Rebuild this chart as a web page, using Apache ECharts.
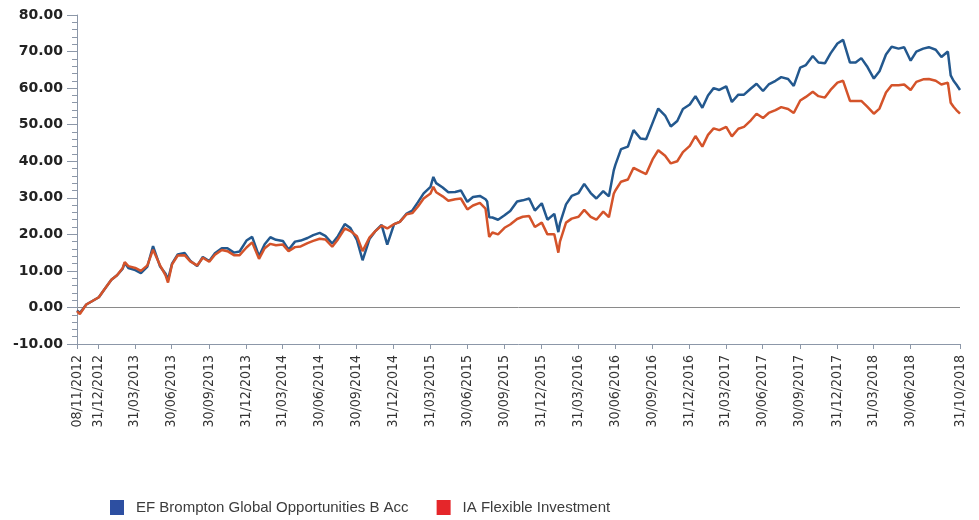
<!DOCTYPE html>
<html>
<head>
<meta charset="utf-8">
<title>EF Brompton vs IA Flexible Investment</title>
<script src="https://cdn.jsdelivr.net/npm/echarts@6.0.0/dist/echarts.min.js"></script>
<style>
  html, body { margin: 0; padding: 0; background: #fff; }
  #chart { width: 979px; height: 520px; }
</style>
</head>
<body>
<div id="chart"></div>
<script>
  // sample dates (ISO)
  var dates = [
    '2012-11-08', '2012-11-15', '2012-12-01', '2012-12-15',
    '2013-01-01', '2013-01-15', '2013-02-01', '2013-02-15', '2013-03-01', '2013-03-06', '2013-03-15',
    '2013-04-01', '2013-04-15', '2013-05-01', '2013-05-15', '2013-06-01', '2013-06-15', '2013-06-21',
    '2013-07-01', '2013-07-15', '2013-08-01', '2013-08-15', '2013-09-01', '2013-09-15', '2013-10-01',
    '2013-10-15', '2013-11-01', '2013-11-15', '2013-12-01', '2013-12-15',
    '2014-01-01', '2014-01-15', '2014-02-01', '2014-02-15', '2014-03-01', '2014-03-15', '2014-04-01',
    '2014-04-15', '2014-05-01', '2014-05-15', '2014-06-01', '2014-06-15', '2014-07-01', '2014-07-15',
    '2014-08-01', '2014-08-15', '2014-09-01', '2014-09-15', '2014-10-01', '2014-10-15', '2014-11-01',
    '2014-11-15', '2014-12-01', '2014-12-15',
    '2015-01-01', '2015-01-15', '2015-02-01', '2015-02-15', '2015-03-01', '2015-03-15', '2015-04-01',
    '2015-04-08', '2015-04-15', '2015-05-01', '2015-05-15', '2015-06-01', '2015-06-15', '2015-07-01',
    '2015-07-15', '2015-08-01', '2015-08-15', '2015-08-19', '2015-08-24', '2015-09-01', '2015-09-15',
    '2015-10-01', '2015-10-15', '2015-11-01', '2015-11-15', '2015-12-01', '2015-12-15',
    '2016-01-01', '2016-01-15', '2016-02-01', '2016-02-11', '2016-02-15', '2016-03-01', '2016-03-15',
    '2016-04-01', '2016-04-15', '2016-05-01', '2016-05-15', '2016-06-01', '2016-06-15', '2016-06-27',
    '2016-07-01', '2016-07-15', '2016-08-01', '2016-08-15', '2016-09-01', '2016-09-15', '2016-10-01',
    '2016-10-15', '2016-11-01', '2016-11-15', '2016-12-01', '2016-12-15',
    '2017-01-01', '2017-01-15', '2017-02-01', '2017-02-15', '2017-03-01', '2017-03-15', '2017-04-01',
    '2017-04-15', '2017-05-01', '2017-05-15', '2017-06-01', '2017-06-15', '2017-07-01', '2017-07-15',
    '2017-08-01', '2017-08-15', '2017-09-01', '2017-09-15', '2017-10-01', '2017-10-15', '2017-11-01',
    '2017-11-15', '2017-12-01', '2017-12-15',
    '2018-01-01', '2018-01-15', '2018-02-01', '2018-02-15', '2018-03-01', '2018-03-15', '2018-04-01',
    '2018-04-15', '2018-05-01', '2018-05-15', '2018-06-01', '2018-06-15', '2018-07-01', '2018-07-15',
    '2018-08-01', '2018-08-15', '2018-09-01', '2018-09-15', '2018-10-01', '2018-10-08', '2018-10-15',
    '2018-10-22', '2018-10-31'
  ];

  var fundValues = [
    -0.8, -1.5, 0.8, 1.7,
    2.8, 5.0, 7.6, 8.8, 10.6, 12.2, 10.8,
    10.2, 9.4, 11.2, 16.8, 11.3, 9.2, 7.6,
    12.0, 14.5, 14.9, 12.8, 11.3, 13.8, 12.7,
    14.8, 16.2, 16.2, 15.0, 15.3,
    18.3, 19.3, 14.0, 17.3, 19.2, 18.5, 18.2,
    15.8, 18.0, 18.3, 19.0, 19.8, 20.4, 19.6,
    17.5, 19.5, 22.8, 21.7, 18.5, 12.9, 18.7,
    20.8, 22.6, 17.2,
    22.8, 23.4, 25.7, 26.5, 28.8, 31.2, 33.0,
    35.7, 34.0, 32.8, 31.5, 31.6, 32.0, 28.9,
    30.2, 30.5, 29.6, 29.0, 24.7, 24.6, 24.0,
    25.2, 26.4, 29.0, 29.3, 29.8, 26.5,
    28.5, 24.0, 25.6, 20.6, 23.0, 28.2, 30.5,
    31.3, 33.8, 31.3, 29.8, 31.8, 30.4, 37.5,
    39.0, 43.3, 44.0, 48.5, 46.2, 46.0, 50.5,
    54.4, 52.5, 49.5, 51.0, 54.3,
    55.5, 57.8, 54.6, 58.0, 60.0, 59.5, 60.5,
    56.2, 58.2, 58.2, 59.9, 61.2, 59.2, 61.0,
    62.0, 63.0, 62.5, 60.6, 65.6, 66.3, 68.8,
    67.0, 66.8, 69.5,
    72.2, 73.2, 67.0, 67.0, 68.2, 66.0, 62.6,
    64.6, 69.2, 71.3, 70.8, 71.2, 67.5, 70.0,
    70.8, 71.2, 70.5, 68.5, 70.0, 63.5, 62.0,
    61.0, 59.5
  ];

  var sectorValues = [
    -1.0, -1.8, 0.8, 1.7,
    2.8, 5.0, 7.6, 8.8, 10.8, 12.4, 11.3,
    10.8, 10.0, 11.5, 15.8, 11.6, 8.8, 6.8,
    11.8, 14.2, 14.3, 12.6, 11.5, 13.6, 12.5,
    14.4, 15.7, 15.4, 14.3, 14.3,
    16.4, 17.8, 13.3, 16.2, 17.4, 17.0, 17.2,
    15.4, 16.5, 16.7, 17.6, 18.2, 18.8, 18.6,
    16.6, 18.6, 21.6, 20.9, 19.5, 15.4, 19.1,
    20.8, 22.4, 21.6,
    22.8, 23.4, 25.5, 25.8, 27.6, 29.8, 31.2,
    33.0, 31.5, 30.4, 29.2, 29.6, 29.8, 26.8,
    27.9, 28.6, 27.0, 26.6, 19.3, 20.5, 20.0,
    21.8, 22.7, 24.2, 24.8, 25.0, 22.0,
    23.2, 20.0, 20.0, 15.0, 18.0, 23.2, 24.3,
    24.8, 26.7, 24.8, 24.0, 26.2, 24.7, 31.1,
    32.0, 34.4, 35.0, 38.2, 37.2, 36.5, 40.5,
    43.0, 41.5, 39.4, 40.0, 42.5,
    44.2, 46.9, 44.0, 47.2, 49.0, 48.5, 49.4,
    46.8, 48.9, 49.4, 51.2, 53.0, 51.8, 53.2,
    54.0, 54.8, 54.3, 53.2, 56.6, 57.6, 59.0,
    57.8, 57.4, 59.5,
    61.5, 62.0, 56.5, 56.5, 56.5, 55.0, 53.0,
    54.4, 58.8, 60.8, 60.8, 61.0, 59.5, 61.7,
    62.4, 62.5, 62.0, 61.0, 61.5, 56.0, 54.9,
    54.0, 53.0
  ];

  var tickLabels = [
    '08/11/2012', '31/12/2012', '31/03/2013', '30/06/2013', '30/09/2013', '31/12/2013',
    '31/03/2014', '30/06/2014', '30/09/2014', '31/12/2014', '31/03/2015', '30/06/2015',
    '30/09/2015', '31/12/2015', '31/03/2016', '30/06/2016', '30/09/2016', '31/12/2016',
    '31/03/2017', '30/06/2017', '30/09/2017', '31/12/2017', '31/03/2018', '30/06/2018',
    '31/10/2018'
  ];

  var fundName = 'EF Brompton Global Opportunities B Acc';
  var sectorName = 'IA Flexible Investment';

  function pad(n) { return n < 10 ? '0' + n : '' + n; }
  function toLabel(iso) {
    var p = iso.split('-');
    return p[2] + '/' + p[1] + '/' + p[0];
  }

  // one category per calendar day so the axis is proportional to time
  var days = [];
  var d = new Date(Date.UTC(2012, 10, 8));
  var end = Date.UTC(2018, 9, 31);
  while (d.getTime() <= end) {
    days.push(pad(d.getUTCDate()) + '/' + pad(d.getUTCMonth() + 1) + '/' + d.getUTCFullYear());
    d.setUTCDate(d.getUTCDate() + 1);
  }

  var labelSet = {};
  tickLabels.forEach(function (t) { labelSet[t] = true; });
  function isTick(index, value) { return !!labelSet[value]; }

  var axisColor = '#8c97a8';

  var chart = echarts.init(document.getElementById('chart'));
  chart.setOption({
    backgroundColor: '#fff',
    animation: false,
    grid: { left: 77, right: 19, top: 15, bottom: 176 },
    legend: {
      left: 105,
      top: 495,
      icon: 'rect',
      itemWidth: 14,
      itemHeight: 15,
      itemGap: 28,
      textStyle: {
        fontFamily: 'Liberation Sans',
        fontSize: 15,
        color: '#3c3c3c',
        padding: [0, 0, 0, 7]
      },
      data: [
        { name: fundName, itemStyle: { color: '#2d4fa1' } },
        { name: sectorName, itemStyle: { color: '#e5262a' } }
      ]
    },
    xAxis: {
      type: 'category',
      data: days,
      boundaryGap: false,
      axisLine: { onZero: false, lineStyle: { color: axisColor } },
      axisTick: { interval: isTick, length: 5, lineStyle: { color: axisColor } },
      axisLabel: {
        interval: isTick,
        rotate: 90,
        margin: 11,
        fontFamily: 'DejaVu Sans Condensed',
        fontSize: 14,
        color: '#333'
      },
      splitLine: { show: false }
    },
    yAxis: {
      type: 'value',
      min: -10,
      max: 80,
      interval: 10,
      axisLine: { show: true, lineStyle: { color: axisColor } },
      axisTick: { show: true, length: 10, lineStyle: { color: axisColor } },
      minorTick: { show: true, splitNumber: 5, length: 5, lineStyle: { color: axisColor } },
      axisLabel: {
        margin: 14,
        fontFamily: 'DejaVu Sans',
        fontWeight: 'bold',
        fontSize: 14,
        color: '#222',
        formatter: function (v) { return v.toFixed(2); }
      },
      splitLine: {
        show: true,
        lineStyle: {
          width: 1,
          color: ['rgba(0,0,0,0)', '#8a8a8a', 'rgba(0,0,0,0)', 'rgba(0,0,0,0)', 'rgba(0,0,0,0)',
                  'rgba(0,0,0,0)', 'rgba(0,0,0,0)', 'rgba(0,0,0,0)', 'rgba(0,0,0,0)', 'rgba(0,0,0,0)']
        }
      }
    },
    series: [
      {
        name: fundName,
        type: 'line',
        showSymbol: false,
        symbol: 'none',
        color: '#23588e',
        lineStyle: { width: 2.5, color: '#23588e' },
        data: dates.map(function (t, i) { return [toLabel(t), fundValues[i]]; })
      },
      {
        name: sectorName,
        type: 'line',
        showSymbol: false,
        symbol: 'none',
        color: '#d4532a',
        lineStyle: { width: 2.5, color: '#d4532a' },
        data: dates.map(function (t, i) { return [toLabel(t), sectorValues[i]]; })
      }
    ]
  });
</script>
</body>
</html>
